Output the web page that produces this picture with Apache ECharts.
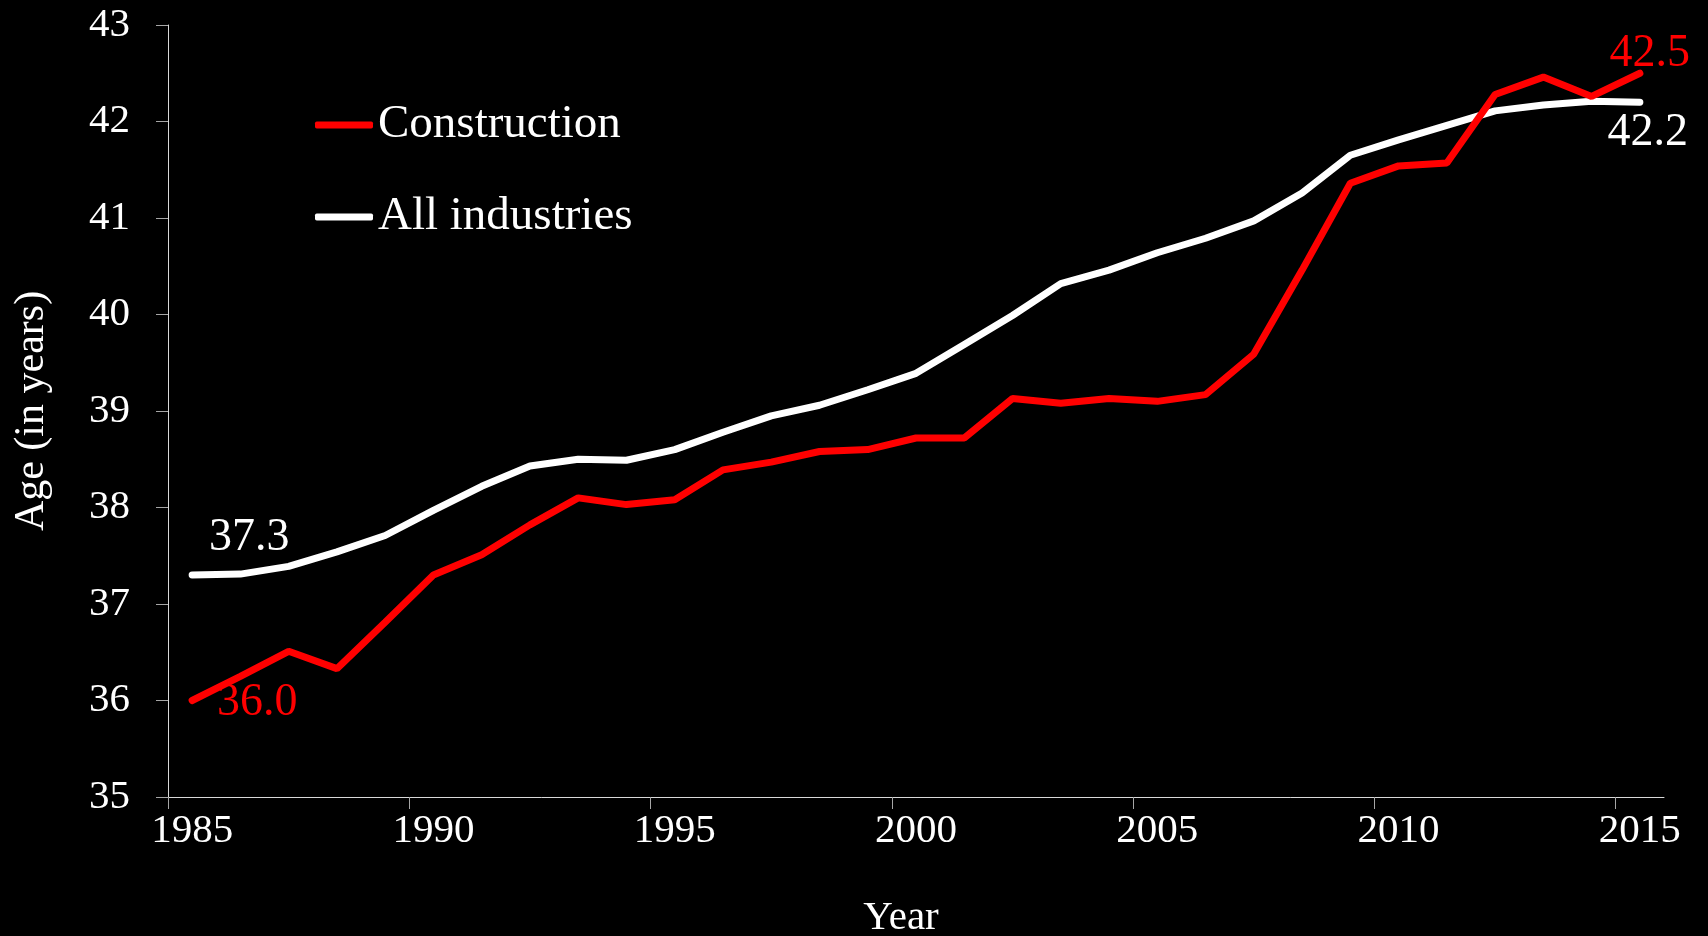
<!DOCTYPE html>
<html>
<head>
<meta charset="utf-8">
<title>Median age of workers: construction vs. all industries</title>
<script src="https://cdn.jsdelivr.net/npm/echarts@6/dist/echarts.min.js"></script>
<style>
  html, body { margin: 0; padding: 0; background: #000; }
  #chart { width: 1708px; height: 936px; }
</style>
</head>
<body>
<div id="chart"></div>
<script>
// Years on the horizontal axis
const years = [
  1985, 1986, 1987, 1988, 1989, 1990, 1991, 1992, 1993, 1994, 1995,
  1996, 1997, 1998, 1999, 2000, 2001, 2002, 2003, 2004, 2005,
  2006, 2007, 2008, 2009, 2010, 2011, 2012, 2013, 2014, 2015
];

// Average age (in years), construction workers
const construction = [
  36.0, 36.25, 36.51, 36.33, 36.81, 37.30, 37.51, 37.82, 38.10, 38.03, 38.08,
  38.39, 38.47, 38.58, 38.60, 38.72, 38.72, 39.13, 39.08, 39.13, 39.10,
  39.17, 39.59, 40.46, 41.36, 41.54, 41.57, 42.28, 42.46, 42.26, 42.5
];

// Average age (in years), all industries
const allIndustries = [
  37.3, 37.31, 37.39, 37.54, 37.71, 37.97, 38.22, 38.43, 38.50, 38.49, 38.60,
  38.78, 38.95, 39.06, 39.22, 39.39, 39.69, 39.99, 40.32, 40.46, 40.64,
  40.79, 40.97, 41.26, 41.65, 41.81, 41.96, 42.11, 42.17, 42.21, 42.2
];

// Labelled years on the horizontal axis
const yearTickLabels = [1985, 1990, 1995, 2000, 2005, 2010, 2015];

const FONT = '"Liberation Serif", "Times New Roman", serif';

// Each year occupies a one-year band; tick marks sit on the band's left edge
const xMin = years[0] - 0.5;
const xMax = years[years.length - 1] + 0.5;
const tickEdges = yearTickLabels.map(y => y - 0.5);

// Pair years with values and attach a value label (one decimal) to the first and last points
function toSeriesData(values, color, firstOffset, lastOffset) {
  return values.map((v, i) => {
    const item = { value: [years[i], v] };
    if (i === 0 || i === values.length - 1) {
      item.label = {
        show: true,
        position: 'inside',
        offset: i === 0 ? firstOffset : lastOffset,
        formatter: p => p.value[1].toFixed(1),
        color: color,
        fontFamily: FONT,
        fontSize: 46
      };
    }
    return item;
  });
}

const chart = echarts.init(document.getElementById('chart'), null, { renderer: 'canvas' });

chart.setOption({
  backgroundColor: '#000000',
  animation: false,
  grid: {
    left: 168, right: 44, top: 25, bottom: 139,
    containLabel: false,
    outerBoundsMode: 'none'
  },
  legend: {
    orient: 'vertical',
    left: 310,
    top: 95,
    itemWidth: 58,
    itemHeight: 7,
    itemGap: 42,
    icon: 'roundRect',
    textStyle: { color: '#ffffff', fontFamily: FONT, fontSize: 47, lineHeight: 50 },
    data: ['Construction', 'All industries']
  },
  xAxis: {
    type: 'value',
    min: xMin,
    max: xMax,
    name: 'Year',
    nameLocation: 'middle',
    nameGap: 101,
    nameTextStyle: { color: '#ffffff', fontFamily: FONT, fontSize: 41, padding: [0, 30, 0, 0] },
    axisLine: { show: true, lineStyle: { color: '#d9d9d9', width: 1 } },
    axisTick: { show: true, customValues: tickEdges, length: 12, lineStyle: { color: '#a6a6a6' } },
    axisLabel: {
      customValues: yearTickLabels,
      margin: 14,
      color: '#ffffff',
      fontFamily: FONT,
      fontSize: 41,
      formatter: v => String(Math.round(v))
    },
    splitLine: { show: false }
  },
  yAxis: {
    type: 'value',
    min: 35,
    max: 43,
    interval: 1,
    name: 'Age (in years)',
    nameLocation: 'middle',
    nameGap: 115,
    nameRotate: 90,
    nameTextStyle: { color: '#ffffff', fontFamily: FONT, fontSize: 42 },
    axisLine: { show: true, lineStyle: { color: '#d9d9d9', width: 1 } },
    axisTick: { show: true, length: 12, lineStyle: { color: '#a6a6a6' } },
    axisLabel: { margin: 38, color: '#ffffff', fontFamily: FONT, fontSize: 41 },
    splitLine: { show: false }
  },
  series: [
    {
      name: 'Construction',
      type: 'line',
      data: toSeriesData(construction, '#ff0000', [65, 2], [10, -19]),
      color: '#ff0000',
      showSymbol: true,
      symbol: 'circle',
      symbolSize: 1,
      itemStyle: { color: '#ff0000' },
      lineStyle: { color: '#ff0000', width: 7, cap: 'round' },
      z: 3
    },
    {
      name: 'All industries',
      type: 'line',
      data: toSeriesData(allIndustries, '#ffffff', [57, -37], [8, 31]),
      color: '#ffffff',
      showSymbol: true,
      symbol: 'circle',
      symbolSize: 1,
      itemStyle: { color: '#ffffff' },
      lineStyle: { color: '#ffffff', width: 7, cap: 'round' },
      z: 2
    }
  ]
});
</script>
</body>
</html>
